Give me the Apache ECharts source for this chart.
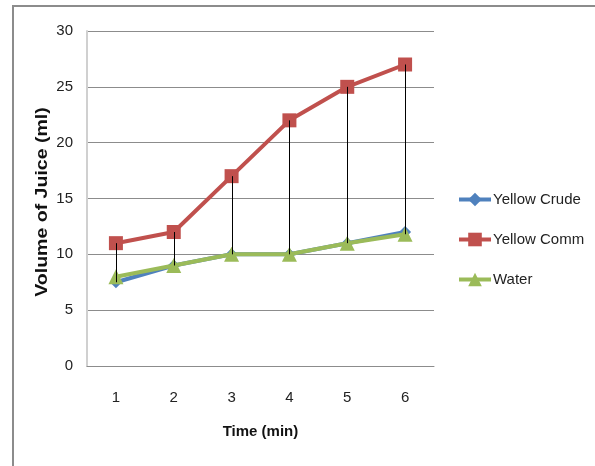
<!DOCTYPE html>
<html>
<head>
<meta charset="utf-8">
<script src="https://cdn.jsdelivr.net/npm/echarts@6/dist/echarts.min.js"></script>
<style>
  html, body { margin: 0; padding: 0; background: #fff; }
  #chart { width: 595px; height: 466px; }
</style>
</head>
<body>
<div id="chart"></div>
<script>
// Juice volume over time for each treatment
const times = ['1', '2', '3', '4', '5', '6'];
const yellowCrude = [7.5, 9, 10, 10, 11, 12];
const yellowComm = [11, 12, 17, 22, 25, 27];
const water = [8, 9, 10, 10, 11, 11.8];
const yTicks = { min: 0, max: 30, interval: 5 };

const FONT = '"Liberation Sans", Arial, sans-serif';

// high-low range at each time point across all series
const highLow = times.map((t, i) => {
  const vals = [yellowCrude[i], yellowComm[i], water[i]];
  return [i, Math.max.apply(null, vals), Math.min.apply(null, vals)];
});

const chart = echarts.init(document.getElementById('chart'), null, { renderer: 'canvas' });

chart.setOption({
  animation: false,
  backgroundColor: '#fff',
  graphic: [
    {
      type: 'rect',
      shape: { x: 13, y: 6, width: 700, height: 600 },
      style: { fill: 'none', stroke: '#8c8c8c', lineWidth: 2 },
      silent: true,
      z: -10
    },
    {
      // vertical axis title, stretched along its length
      type: 'text',
      x: 43,
      y: 202,
      rotation: Math.PI / 2,
      scaleX: 1.22,
      style: {
        text: 'Volume of Juice (ml)',
        font: 'bold 16px ' + FONT,
        fill: '#111',
        align: 'center',
        verticalAlign: 'middle'
      },
      silent: true
    }
  ],
  grid: { left: 87, right: 161, top: 31, bottom: 100, containLabel: false },
  legend: {
    orient: 'vertical',
    left: 452,
    top: 187,
    itemGap: 25,
    itemWidth: 32,
    itemHeight: 17,
    lineStyle: { width: 4 },
    textStyle: { fontFamily: FONT, fontSize: 15, color: '#222', padding: [0, 0, 0, -3] },
    data: ['Yellow Crude', 'Yellow Comm', 'Water']
  },
  xAxis: {
    type: 'category',
    data: times,
    boundaryGap: true,
    name: 'Time (min)',
    nameLocation: 'middle',
    nameGap: 58,
    nameTextStyle: { fontFamily: FONT, fontSize: 15, fontWeight: 'bold', color: '#111' },
    axisLine: { show: true, lineStyle: { color: '#8c8c8c', width: 1 } },
    axisTick: { show: false },
    axisLabel: { fontFamily: FONT, fontSize: 15, color: '#222', margin: 24 },
    splitLine: { show: false }
  },
  yAxis: {
    type: 'value',
    min: yTicks.min,
    max: yTicks.max,
    interval: yTicks.interval,
    axisLine: { show: true, lineStyle: { color: '#d0d0d0', width: 2 } },
    axisTick: { show: false },
    axisLabel: { fontFamily: FONT, fontSize: 15, color: '#222', margin: 14 },
    splitLine: { show: true, lineStyle: { color: '#8c8c8c', width: 1 } }
  },
  series: [
    {
      name: 'Yellow Crude',
      type: 'line',
      data: yellowCrude,
      symbol: 'diamond',
      symbolSize: 12,
      color: '#4F81BD',
      lineStyle: { width: 4 },
      z: 2
    },
    {
      name: 'Yellow Comm',
      type: 'line',
      data: yellowComm,
      symbol: 'rect',
      symbolSize: 14,
      color: '#C0504D',
      lineStyle: { width: 4 },
      z: 2
    },
    {
      name: 'Water',
      type: 'line',
      data: water,
      symbol: 'triangle',
      symbolSize: 15,
      color: '#9BBB59',
      lineStyle: { width: 4 },
      z: 3
    },
    {
      name: 'High-Low',
      type: 'custom',
      data: highLow,
      z: 10,
      silent: true,
      renderItem: function (params, api) {
        const top = api.coord([api.value(0), api.value(1)]);
        const bottom = api.coord([api.value(0), api.value(2)]);
        return {
          type: 'line',
          shape: { x1: Math.round(top[0]) + 0.5, y1: top[1], x2: Math.round(bottom[0]) + 0.5, y2: bottom[1] },
          style: { stroke: '#000', lineWidth: 1 }
        };
      }
    }
  ]
});
</script>
</body>
</html>
